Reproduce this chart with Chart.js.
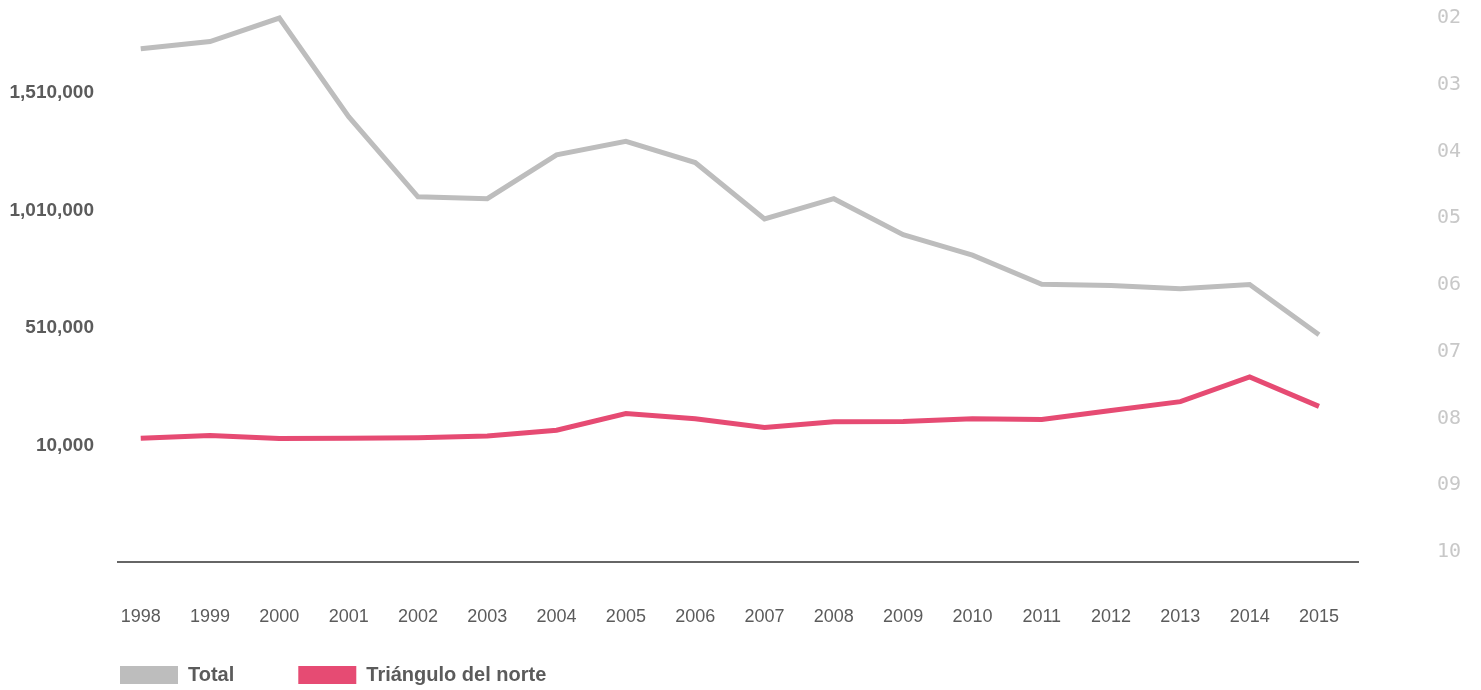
<!DOCTYPE html>
<html>
<head>
<meta charset="utf-8">
<script src="https://cdn.jsdelivr.net/npm/chart.js@4.4.1/dist/chart.umd.min.js"></script>
<style>
html, body { margin: 0; padding: 0; background: #fff; }
#wrap { width: 1481px; height: 690px; position: relative; }
</style>
</head>
<body>
<div id="wrap"><canvas id="myChart"></canvas></div>
<script>
// data
var years = [1998, 1999, 2000, 2001, 2002, 2003, 2004, 2005, 2006, 2007, 2008, 2009, 2010, 2011, 2012, 2013, 2014, 2015];
var total = [1699000, 1730000, 1830000, 1410000, 1069000, 1061000, 1248000, 1305000, 1215000, 975000, 1061000, 908000, 821000, 697000, 692000, 678000, 696000, 482000];
var norte = [41000, 53000, 40000, 41000, 43000, 51000, 75000, 146000, 124000, 87000, 111000, 112000, 124000, 121000, 159000, 197000, 302000, 177000];
var leftTicks = [10000, 510000, 1010000, 1510000];
var rightTicks = [2, 3, 4, 5, 6, 7, 8, 9, 10];
var seriesNames = ["Total", "Triángulo del norte"];

var sans = "'Liberation Sans', Arial, sans-serif";
var textGrey = "#5b5b5b";
var legendGap = 64;

function pts(vals) {
    return years.map(function (y, i) { return { x: y, y: vals[i] }; });
}

// move the legend to where it sits in the picture
var legendSpot = {
    id: "legendSpot",
    afterLayout: function (chart) {
        chart.legend.left = 120 - legendGap;
        chart.legend.top = 665 - legendGap;
    }
};

var ctx = document.getElementById("myChart");
var chart = new Chart(ctx, {
    type: "line",
    data: {
        datasets: [{
            label: seriesNames[0],
            data: pts(total),
            borderColor: "#bdbdbd",
            backgroundColor: "#bdbdbd",
            borderWidth: 5,
            pointRadius: 0,
            tension: 0,
            yAxisID: "y"
        }, {
            label: seriesNames[1],
            data: pts(norte),
            borderColor: "#e64b73",
            backgroundColor: "#e64b73",
            borderWidth: 5,
            pointRadius: 0,
            tension: 0,
            yAxisID: "y"
        }]
    },
    options: {
        responsive: true,
        maintainAspectRatio: false,
        animation: false,
        devicePixelRatio: 1,
        layout: { padding: 0 },
        plugins: {
            tooltip: { enabled: false },
            legend: {
                position: "bottom",
                align: "start",
                maxHeight: 62,
                labels: {
                    boxWidth: 58,
                    boxHeight: 18,
                    padding: legendGap,
                    color: textGrey,
                    font: { family: sans, size: 20, weight: "bold" },
                    generateLabels: function (c) {
                        var items = Chart.defaults.plugins.legend.labels.generateLabels(c);
                        items.forEach(function (it) { it.lineWidth = 0; });
                        return items;
                    }
                }
            }
        },
        scales: {
            x: {
                type: "linear",
                min: 1997.672,
                max: 2015.563,
                grid: { display: false, drawTicks: false },
                border: { display: true, color: "#666666", width: 2 },
                afterBuildTicks: function (s) { s.ticks = years.map(function (v) { return { value: v }; }); },
                afterFit: function (s) { s.height = 66; s.paddingLeft = 0; s.paddingRight = 0; },
                ticks: {
                    autoSkip: false,
                    maxRotation: 0,
                    padding: 44,
                    color: textGrey,
                    font: { family: sans, size: 18 },
                    callback: function (v) { return String(v); }
                }
            },
            y: {
                position: "left",
                min: -485700,
                max: 1907000,
                grid: { display: false, drawTicks: false },
                border: { display: false },
                afterBuildTicks: function (s) { s.ticks = leftTicks.map(function (v) { return { value: v }; }); },
                afterFit: function (s) { s.width = 118; s.paddingTop = 0; s.paddingBottom = 0; },
                ticks: {
                    padding: 24,
                    color: textGrey,
                    font: { family: sans, size: 19, weight: "bold" },
                    callback: function (v) { return v.toLocaleString("en-US"); }
                }
            },
            y2: {
                position: "right",
                reverse: true,
                min: 1.730,
                max: 10.154,
                grid: { display: false, drawTicks: false },
                border: { display: false },
                afterBuildTicks: function (s) { s.ticks = rightTicks.map(function (v) { return { value: v }; }); },
                afterFit: function (s) { s.width = 123; s.paddingTop = 0; s.paddingBottom = 0; },
                ticks: {
                    padding: 79,
                    color: "#c8c8c8",
                    font: { family: "'DejaVu Sans Mono', monospace", size: 20 },
                    callback: function (v) { return String(v).padStart(2, "0"); }
                }
            }
        }
    },
    plugins: [legendSpot]
});
</script>
</body>
</html>
